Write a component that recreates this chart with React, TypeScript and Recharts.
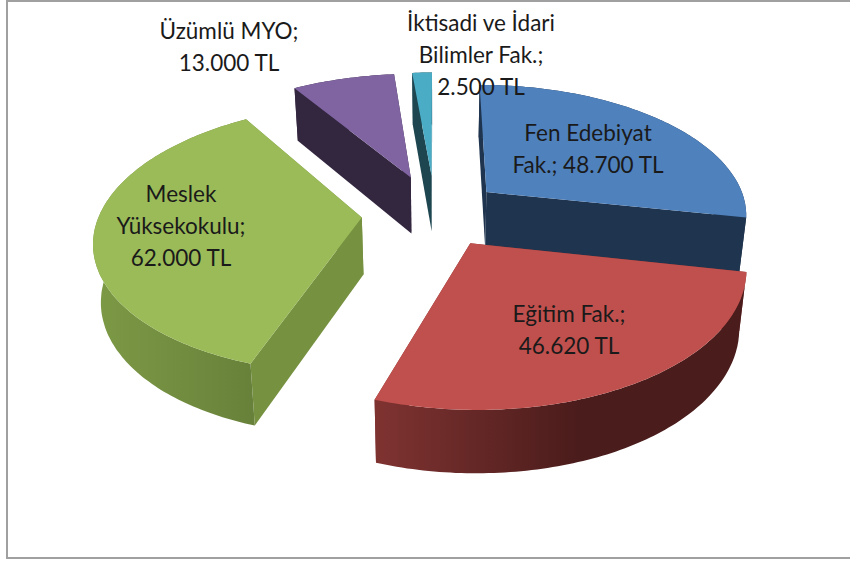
import { PieChart, Pie } from 'recharts'

// values
const names = ['Fen Edebiyat Fak.', 'Eğitim Fak.', 'Meslek Yüksekokulu', 'Üzümlü MYO', 'İktisadi ve İdari Bilimler Fak.']
const amounts = [48700, 46620, 62000, 13000, 2500]
const labelLines = [
  ['Fen Edebiyat', 'Fak.; 48.700 TL'],
  ['Eğitim Fak.;', '46.620 TL'],
  ['Meslek', 'Yüksekokulu;', '62.000 TL'],
  ['Üzümlü MYO;', '13.000 TL'],
  ['İktisadi ve İdari', 'Bilimler Fak.;', '2.500 TL'],
]

// styles
const topColors = ['#4f81bd', '#c0504d', '#9bbb59', '#8064a2', '#4bacc6']
const wallColors = ['#1f344e', '#7d3230', '#769140', '#33263f', '#1e4650']
const rimFrom = ['#1f344e', '#7f3331', '#7d9a46', '#33263f', '#1e4650']
const rimTo = ['#1f344e', '#4a1c1b', '#68813a', '#33263f', '#1e4650']
const explode = [0.26, 0.26, 0.28, 0.3, 0.3]
const labelPos = [
  [588, 141],
  [569, 322],
  [181, 202],
  [229, 39],
  [481, 31],
]

const tableData = names.map((name, i) => ({ name, value: amounts[i] }))

// fake 3D: perspective projection of the flat pie
const TILT = 130 / 262
const PERSP = 0.156
const DEPTH = 57
const SHRINK = 0.977

const project = (cx: number, cy: number, r: number, X: number, V: number, bottom = false) => {
  const s = 1 / (1 - PERSP * V)
  const x = r * X * s
  const y = r * TILT * V * s
  if (!bottom) return [cx + x, cy + y]
  return [cx + x * SHRINK, cy + y + DEPTH * Math.sqrt(s)]
}

const toPath = (pts: number[][]) =>
  'M' + pts.map((p) => p[0].toFixed(1) + ',' + p[1].toFixed(1)).join('L') + 'Z'

const Slice3D = (props: any) => {
  const { cx, cy, outerRadius, startAngle, endAngle, midAngle, payload } = props
  const i = names.indexOf(payload.name)
  const rad = Math.PI / 180
  const ex = explode[i] * Math.cos(midAngle * rad)
  const ev = -explode[i] * Math.sin(midAngle * rad)

  const arcTop: number[][] = []
  const arcBottom: number[][] = []
  const steps = Math.max(2, Math.ceil(Math.abs(endAngle - startAngle)))
  for (let n = 0; n <= steps; n++) {
    const a = (startAngle + ((endAngle - startAngle) * n) / steps) * rad
    const X = ex + Math.cos(a)
    const V = ev - Math.sin(a)
    arcTop.push(project(cx, cy, outerRadius, X, V))
    arcBottom.push(project(cx, cy, outerRadius, X, V, true))
  }
  const apex = project(cx, cy, outerRadius, ex, ev)
  const apexB = project(cx, cy, outerRadius, ex, ev, true)
  const lastT = arcTop[steps]
  const lastB = arcBottom[steps]
  const gradId = 'rim' + i

  return (
    <g>
      <defs>
        <linearGradient id={gradId} x1="0" y1="0" x2="1" y2="0">
          <stop offset="0" stopColor={rimFrom[i]} />
          <stop offset={i === 1 ? 0.55 : 1} stopColor={rimTo[i]} />
        </linearGradient>
      </defs>
      <path d={toPath([apex, lastT, lastB, apexB])} fill={wallColors[i]} />
      <path d={toPath([apex, arcTop[0], arcBottom[0], apexB])} fill={wallColors[i]} />
      <path d={toPath([...arcTop, ...[...arcBottom].reverse()])} fill={`url(#${gradId})`} />
      <path d={toPath([apex, ...arcTop])} fill={topColors[i]} />
    </g>
  )
}

const SliceLabel = (props: any) => {
  const i = names.indexOf(props.payload?.name ?? props.name)
  const [x, y] = labelPos[i]
  return (
    <text x={x} y={y} textAnchor="middle" fontFamily="Lato, sans-serif" fontSize={22.5} fill="#1a1a1a">
      {labelLines[i].map((line, n) => (
        <tspan key={n} x={x} dy={n === 0 ? 0 : 32}>
          {line}
        </tspan>
      ))}
    </text>
  )
}

export default function App() {
  return (
    <div style={{ position: 'absolute', left: 0, top: 0, width: 850, height: 561, background: '#fff' }}>
      <div
        style={{
          position: 'absolute',
          left: 6,
          top: 0,
          width: 844,
          height: 555,
          borderLeft: '2px solid #a0a0a0',
          borderTop: '2px solid #a0a0a0',
          borderBottom: '2px solid #a0a0a0',
        }}
      />
      <div style={{ position: 'absolute', left: 0, top: 0 }}>
        <PieChart width={850} height={561} margin={{ top: 0, right: 0, bottom: 0, left: 0 }}>
          <Pie
            data={tableData}
            dataKey="value"
            nameKey="name"
            cx={435}
            cy={213}
            innerRadius={0}
            outerRadius={262}
            startAngle={90}
            endAngle={-270}
            stroke="none"
            isAnimationActive={false}
            shape={Slice3D}
            label={SliceLabel}
            labelLine={false}
          />
        </PieChart>
      </div>
    </div>
  )
}
